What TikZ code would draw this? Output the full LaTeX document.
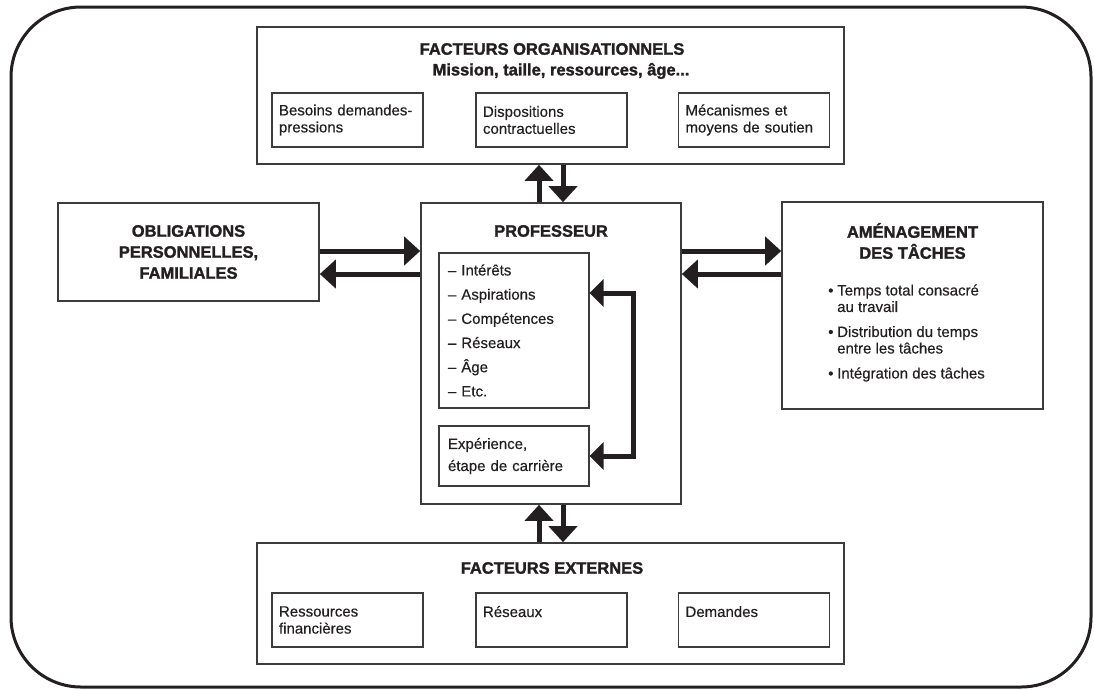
\documentclass[tikz,border=0pt]{standalone}
\usepackage{fontspec}
\setmainfont{Liberation Sans}[UprightFeatures={FakeBold=0.4}, BoldFeatures={FakeBold=1.6}]
\usetikzlibrary{arrows.meta, calc}
\definecolor{inkblack}{RGB}{35, 31, 32}
\definecolor{boxgray}{RGB}{60, 60, 60}
\tikzstyle{outerframe} = [line width=3pt, draw=inkblack, rounded corners=70pt]
\tikzstyle{bigbox} = [draw=boxgray, line width=1.6pt, rectangle, inner sep=0pt]
\tikzstyle{smallbox} = [draw=boxgray, line width=1.2pt, rectangle, minimum width=151pt, minimum height=54pt, text width=137pt, inner xsep=7pt, align=left, font=\fontsize{15}{17}\selectfont, text=inkblack]
\tikzstyle{headtext} = [font=\fontsize{16.5}{21}\selectfont\bfseries, align=center, text=inkblack]
\tikzstyle{bodytext} = [font=\fontsize{15}{16.5}\selectfont, align=left, text=inkblack, inner sep=0pt]
\tikzstyle{arrow} = [line width=5pt, draw=inkblack, -{Triangle[length=16pt, width=28pt]}]
\newcommand{\tacheitem}[1]{\makebox[9pt][l]{\textbullet}#1}
\newcommand{\tachecont}[1]{\hspace*{9pt}#1}

\begin{document}
\begin{tikzpicture}[x=1pt, y=-1pt]
\useasboundingbox (0,0) rectangle (1094,689);
% Outer frame
\draw[outerframe] (11,7) rectangle (1091,687);

% Facteurs organisationnels
\node[bigbox, minimum width=587pt, minimum height=137pt] (orga) at (550.5,95.5) {};
\node[headtext] (orgatitle) at (552,49) {FACTEURS ORGANISATIONNELS};
\node[headtext] (orgasub) at (561,71) {Mission, taille, ressources, âge...};
\node[smallbox] (besoins) at (347.5,120) {\mbox{Besoins demandes-}\\pressions};
\node[smallbox] (dispositions) at (551.5,120) {Dispositions\\contractuelles};
\node[smallbox] (mecanismes) at (754,120) {Mécanismes et\\\mbox{moyens de soutien}};

% Obligations
\node[bigbox, headtext, minimum width=261pt, minimum height=98pt] (oblig) at (188.5,252) {OBLIGATIONS\\PERSONNELLES,\\FAMILIALES};

% Professeur
\node[bigbox, minimum width=260pt, minimum height=301pt] (prof) at (551,353.5) {};
\node[headtext] (proftitle) at (551,231) {PROFESSEUR};
\node[smallbox, minimum width=150pt, text width=132pt, inner xsep=9pt, minimum height=155pt, font=\fontsize{15}{24.2}\selectfont] (traits) at (514,330.5) {– Intérêts\\– Aspirations\\– Compétences\\– Réseaux\\– Âge\\– Etc.};
\node[smallbox, minimum width=150pt, text width=132pt, inner xsep=9pt, minimum height=60pt, font=\fontsize{15}{22}\selectfont] (exper) at (514,456) {Expérience,\\étape de carrière};
\draw[arrow, {Triangle[length=14pt, width=27pt]}-{Triangle[length=14pt, width=27pt]}] ([yshift=37.5pt]traits.east) -- ++(44,0) |- (exper.east);

% Amenagement des taches
\node[bigbox, minimum width=261pt, minimum height=207pt] (amen) at (912.5,305.5) {};
\node[headtext] (amentitle) at (912.5,241) {AMÉNAGEMENT\\DES TÂCHES};
\node[bodytext, anchor=west] (amenlist) at (828,333) {\tacheitem{Temps total consacré}\\\tachecont{au travail}\\[8.5pt]\tacheitem{Distribution du temps}\\\tachecont{entre les tâches}\\[8.5pt]\tacheitem{Intégration des tâches}};

% Facteurs externes
\node[bigbox, minimum width=587pt, minimum height=121pt] (ext) at (550.5,603.5) {};
\node[headtext] (exttitle) at (552,568) {FACTEURS EXTERNES};
\node[smallbox] (ressources) at (347.5,620) {Ressources\\financières};
\node[smallbox] (reseaux) at (551.5,620) {Réseaux\\\mbox{}};
\node[smallbox] (demandes) at (754,620) {Demandes\\\mbox{}};

% Connectors
\coordinate (leftup) at ([yshift=1pt]oblig.east);
\coordinate (leftdown) at ([yshift=-22pt]oblig.east);
\draw[arrow] (leftup) -- (leftup -| prof.west);
\draw[arrow] (leftdown -| prof.west) -- (leftdown);
\draw[arrow] (leftup -| prof.east) -- (leftup -| amen.west);
\draw[arrow] (leftdown -| amen.west) -- (leftdown -| prof.east);
\coordinate (upleft) at ([xshift=-12pt]prof.north);
\coordinate (downright) at ([xshift=12pt]prof.north);
\draw[arrow] (upleft) -- (upleft |- orga.south);
\draw[arrow] (downright |- orga.south) -- (downright);
\draw[arrow] (upleft |- ext.north) -- (upleft |- prof.south);
\draw[arrow] (downright |- prof.south) -- (downright |- ext.north);
\end{tikzpicture}
\end{document}
